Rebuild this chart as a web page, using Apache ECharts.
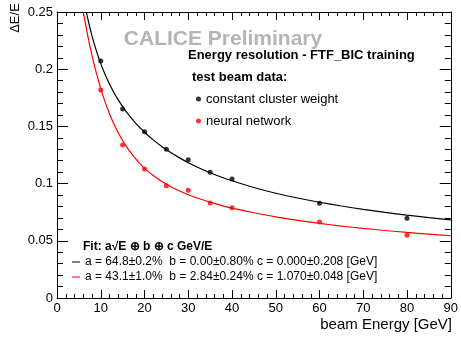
<!DOCTYPE html>
<html>
<head>
<meta charset="utf-8">
<script src="https://cdn.jsdelivr.net/npm/echarts@6/dist/echarts.min.js"></script>
<style>html,body{margin:0;padding:0;background:#fff}#c{width:461px;height:340px}</style>
</head>
<body>
<div id="c"></div>
<script>
// ---- data ----
const beamEnergy = [10, 15, 20, 25, 30, 35, 40, 60, 80];
const ccwResolution = [0.2072, 0.1652, 0.1454, 0.1300, 0.1209, 0.1099, 0.1040, 0.0828, 0.0697];
const nnResolution  = [0.1818, 0.1337, 0.1128, 0.0982, 0.0941, 0.0830, 0.0789, 0.0664, 0.0548];

// fit curves
const ccwFitE = [6.72, 7, 7.5, 8, 8.5, 9, 9.5, 10, 11, 12, 13, 14, 15, 16, 17, 18, 19, 20, 22, 24, 26, 28, 30, 32.5, 35, 37.5, 40, 45, 50, 55, 60, 65, 70, 75, 80, 85, 90];
const ccwFitV = [0.2500, 0.2449, 0.2366, 0.2291, 0.2223, 0.2160, 0.2102, 0.2049, 0.1954, 0.1871, 0.1797, 0.1732, 0.1673, 0.1620, 0.1572, 0.1527, 0.1487, 0.1449, 0.1382, 0.1323, 0.1271, 0.1225, 0.1183, 0.1137, 0.1095, 0.1058, 0.1025, 0.0966, 0.0916, 0.0874, 0.0837, 0.0804, 0.0775, 0.0748, 0.0724, 0.0703, 0.0683];
const nnFitE = [6.0, 6.5, 7, 7.5, 8, 8.5, 9, 9.5, 10, 11, 12, 13, 14, 15, 16, 17, 18, 19, 20, 22, 24, 26, 28, 30, 32.5, 35, 37.5, 40, 45, 50, 55, 60, 65, 70, 75, 80, 85, 90];
const nnFitV = [0.2500, 0.2400, 0.2300, 0.2205, 0.2120, 0.2040, 0.1965, 0.1895, 0.1830, 0.1712, 0.1610, 0.1522, 0.1445, 0.1377, 0.1317, 0.1264, 0.1216, 0.1172, 0.1133, 0.1070, 0.1018, 0.0973, 0.0935, 0.0903, 0.0868, 0.0838, 0.0810, 0.0785, 0.0745, 0.0709, 0.0679, 0.0652, 0.0629, 0.0608, 0.0590, 0.0573, 0.0558, 0.0544];

const xTicks = [0, 10, 20, 30, 40, 50, 60, 70, 80, 90];
const yTicks = [0, 0.05, 0.1, 0.15, 0.2, 0.25];

const seriesNames = ['constant cluster weight', 'neural network'];
const fitNames = ['a = 64.8\u00b10.2%  b = 0.00\u00b10.80% c = 0.000\u00b10.208 [GeV]',
                  'a = 43.1\u00b11.0%  b = 2.84\u00b10.24% c = 1.070\u00b10.048 [GeV]'];

const FONT = '"Liberation Sans", Arial, Helvetica, sans-serif';
const zip = (a, b) => a.map((v, i) => [v, b[i]]);

const chart = echarts.init(document.getElementById('c'), null, {renderer: 'canvas'});

function xAx(pos, labels) {
  return {
    type: 'value', position: pos, min: xTicks[0], max: xTicks[xTicks.length - 1], interval: 10,
    axisLine: {show: true, onZero: false, lineStyle: {color: '#000', width: 1}},
    axisTick: {show: true, inside: true, length: 8, lineStyle: {color: '#000'}},
    minorTick: {show: true, splitNumber: 5, length: 4, lineStyle: {color: '#000'}},
    axisLabel: {show: labels, color: '#000', fontSize: 13, fontFamily: FONT, margin: 4},
    splitLine: {show: false}
  };
}
function yAx(pos, labels) {
  return {
    type: 'value', position: pos, min: yTicks[0], max: yTicks[yTicks.length - 1], interval: 0.05,
    axisLine: {show: true, onZero: false, lineStyle: {color: '#000', width: 1}},
    axisTick: {show: true, inside: true, length: 11, lineStyle: {color: '#000'}},
    minorTick: {show: true, splitNumber: 5, length: 6, lineStyle: {color: '#000'}},
    axisLabel: {show: labels, color: '#000', fontSize: 13, fontFamily: FONT, margin: 4,
                formatter: v => String(+v.toFixed(2))},
    splitLine: {show: false}
  };
}

chart.setOption({
  animation: false,
  backgroundColor: '#fff',
  grid: {left: 57, right: 7, top: 12, bottom: 42, containLabel: false},
  xAxis: [xAx('bottom', true), xAx('top', false)],
  yAxis: [yAx('left', true), yAx('right', false)],
  legend: [
    {
      data: seriesNames, orient: 'vertical', left: 196, top: 92,
      icon: 'circle', itemWidth: 5, itemHeight: 5, itemGap: 8, padding: 0,
      selectedMode: false,
      textStyle: {color: '#000', fontSize: 13, fontFamily: FONT, lineHeight: 14}
    },
    {
      data: fitNames, orient: 'vertical', left: 72, top: 256,
      icon: 'rect', itemWidth: 8, itemHeight: 1, itemGap: 3, padding: 0,
      selectedMode: false,
      textStyle: {color: '#000', fontSize: 12, fontFamily: FONT, lineHeight: 12}
    }
  ],
  series: [
    {name: fitNames[0], type: 'line', data: zip(ccwFitE, ccwFitV), showSymbol: false, smooth: 0.3,
     color: '#000', lineStyle: {color: '#000', width: 1.2}, silent: true, z: 2},
    {name: fitNames[1], type: 'line', data: zip(nnFitE, nnFitV), showSymbol: false, smooth: 0.3,
     color: '#ff0000', lineStyle: {color: '#ff0000', width: 1.2}, silent: true, z: 2},
    {name: seriesNames[0], type: 'scatter', data: zip(beamEnergy, ccwResolution), symbolSize: 5,
     color: '#000', itemStyle: {color: '#000'}, z: 3},
    {name: seriesNames[1], type: 'scatter', data: zip(beamEnergy, nnResolution), symbolSize: 5,
     color: '#ff0000', itemStyle: {color: '#ff0000'}, z: 3}
  ],
  graphic: [
    {type: 'text', x: 223, y: 39, z: 10,
     style: {text: 'CALICE Preliminary', fill: '#b4b4b4', font: 'bold 21px ' + FONT, align: 'center', verticalAlign: 'middle'}},
    {type: 'text', x: 188, y: 55, z: 10,
     style: {text: 'Energy resolution - FTF_BIC training', fill: '#000', font: 'bold 13px ' + FONT, verticalAlign: 'middle'}},
    {type: 'text', x: 192, y: 77, z: 10,
     style: {text: 'test beam data:', fill: '#000', font: 'bold 13px ' + FONT, verticalAlign: 'middle'}},
    {type: 'text', x: 83, y: 247, z: 10,
     style: {text: 'Fit: a\u221aE \u2295 b \u2295 c GeV/E', fill: '#000', font: 'bold 12px ' + FONT, verticalAlign: 'middle'}},
    {type: 'text', x: 15, y: 18, rotation: Math.PI / 2, z: 10,
     style: {text: '\u0394E/E', fill: '#000', font: '13px ' + FONT, align: 'center', verticalAlign: 'middle'}},
    {type: 'text', x: 452, y: 325, z: 10,
     style: {text: 'beam Energy [GeV]', fill: '#000', font: '15px ' + FONT, align: 'right', verticalAlign: 'middle'}}
  ]
});
</script>
</body>
</html>
